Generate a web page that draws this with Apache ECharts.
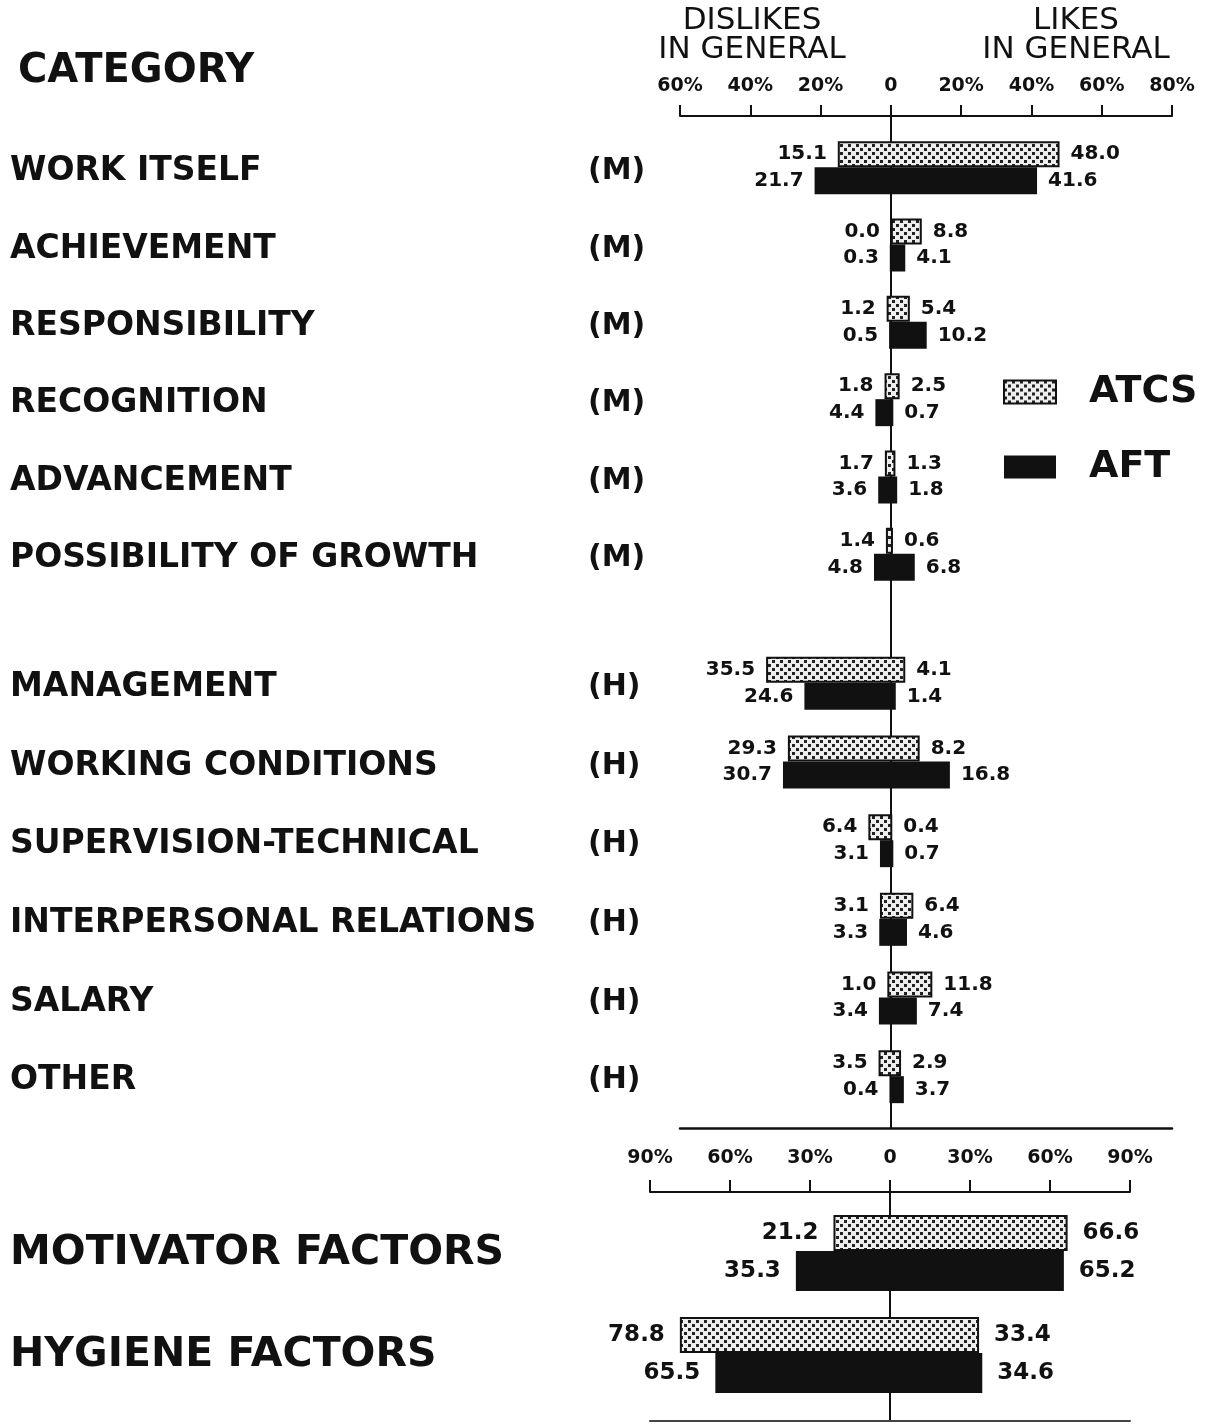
<!DOCTYPE html>
<html>
<head>
<meta charset="utf-8">
<title>Likes / dislikes in general - ATCS vs AFT</title>
<script src="https://cdn.jsdelivr.net/npm/echarts@6/dist/echarts.min.js"></script>
<style>
  html, body { margin: 0; padding: 0; background: #fff; }
  #chart { width: 1208px; height: 1424px; }
</style>
</head>
<body>
<div id="chart"></div>
<script>
// categories with their group, (M) motivator / (H) hygiene
var categories = ['WORK ITSELF', 'ACHIEVEMENT', 'RESPONSIBILITY', 'RECOGNITION', 'ADVANCEMENT', 'POSSIBILITY OF GROWTH',
  'MANAGEMENT', 'WORKING CONDITIONS', 'SUPERVISION-TECHNICAL', 'INTERPERSONAL RELATIONS', 'SALARY', 'OTHER'];
var groups = ['(M)', '(M)', '(M)', '(M)', '(M)', '(M)', '(H)', '(H)', '(H)', '(H)', '(H)', '(H)'];

// percent values, dislikes are drawn to the left of zero
var atcsDislikes = [15.1, 0.0, 1.2, 1.8, 1.7, 1.4, 35.5, 29.3, 6.4, 3.1, 1.0, 3.5];
var atcsLikes    = [48.0, 8.8, 5.4, 2.5, 1.3, 0.6, 4.1, 8.2, 0.4, 6.4, 11.8, 2.9];
var aftDislikes  = [21.7, 0.3, 0.5, 4.4, 3.6, 4.8, 24.6, 30.7, 3.1, 3.3, 3.4, 0.4];
var aftLikes     = [41.6, 4.1, 10.2, 0.7, 1.8, 6.8, 1.4, 16.8, 0.7, 4.6, 7.4, 3.7];

var factors = ['MOTIVATOR FACTORS', 'HYGIENE FACTORS'];
var factorAtcsDislikes = [21.2, 78.8];
var factorAtcsLikes    = [66.6, 33.4];
var factorAftDislikes  = [35.3, 65.5];
var factorAftLikes     = [65.2, 34.6];

// axis ranges (tick labels are the absolute values)
var topAxis = { min: -60, max: 80, step: 20 };
var bottomAxis = { min: -90, max: 90, step: 30 };

var FONT = 'DejaVu Sans';
var INK = '#111';

// stippled fill for ATCS
var pc = document.createElement('canvas');
pc.width = 8; pc.height = 8;
var g = pc.getContext('2d');
g.fillStyle = '#eeeeee'; g.fillRect(0, 0, 8, 8);
g.fillStyle = '#222'; g.fillRect(0, 0, 3, 3); g.fillRect(4, 4, 3, 3);
var stipple = { image: pc, repeat: 'repeat' };

function pctLabel(v) { return v === 0 ? '0' : Math.abs(v) + '%'; }
function fix1(v) { return Math.abs(v).toFixed(1); }

// one diverging bar = transparent base (dislikes, to the left) + visible bar from -dislike to +like
function diverging(name, fill, border, key, xi, yi, dis, likes, width, fs, dist) {
  var lbl = { color: INK, fontFamily: FONT, fontWeight: 'bold', fontSize: fs, distance: dist };
  return [{
    name: name + ' dislikes', type: 'bar', xAxisIndex: xi, yAxisIndex: yi,
    stack: key, stackStrategy: 'all', barWidth: width, barGap: '0%', silent: true,
    itemStyle: { color: 'rgba(0,0,0,0)' },
    label: Object.assign({ show: true, position: 'left', formatter: function (p) { return fix1(p.value); } }, lbl),
    emphasis: { disabled: true },
    data: dis.map(function (d) { return -d; })
  }, {
    name: name, type: 'bar', xAxisIndex: xi, yAxisIndex: yi,
    stack: key, stackStrategy: 'all', barWidth: width, barGap: '0%', silent: true,
    itemStyle: { color: fill, borderColor: border, borderWidth: border ? 2 : 0 },
    label: Object.assign({ show: true, position: 'right', formatter: function (p) { return fix1(likes[p.dataIndex]); } }, lbl),
    emphasis: { disabled: true },
    data: dis.map(function (d, i) { return d + likes[i]; })
  }];
}

function rowLabels(list, grp) {
  return list.map(function (c, i) { return '{a|' + c + '}{b|' + grp[i] + '}'; });
}

var mCats = rowLabels(categories.slice(0, 6), groups.slice(0, 6));
var hCats = rowLabels(categories.slice(6), groups.slice(6));

var catLabel = {
  interval: 0, margin: 670, align: 'left', color: INK, padding: [8, 0, 0, 0],
  rich: {
    a: { width: 578, fontFamily: FONT, fontWeight: 'bold', fontSize: 33, color: INK },
    b: { fontFamily: FONT, fontWeight: 'bold', fontSize: 30, color: INK }
  }
};

var hidden = { show: false };
var zeroLine = { show: true, onZero: true, lineStyle: { color: INK, width: 2 } };

function valueX(grid, ax, extra) {
  return Object.assign({
    type: 'value', gridIndex: grid, min: ax.min, max: ax.max, interval: ax.step,
    axisLine: { show: false, onZero: false }, axisTick: hidden, axisLabel: hidden, splitLine: hidden
  }, extra || {});
}

var chart = echarts.init(document.getElementById('chart'));

var option = {
  backgroundColor: '#fff',
  animation: false,
  grid: [
    { left: 680, right: 36, top: 116, height: 1012, outerBoundsMode: 'none' },   // top scale + zero line
    { left: 680, right: 36, top: 129, height: 464, outerBoundsMode: 'none' },    // (M) rows
    { left: 680, right: 36, top: 644, height: 472, outerBoundsMode: 'none' },    // (H) rows
    { left: 650, right: 78, top: 1192, height: 229, outerBoundsMode: 'none' },   // bottom scale + zero line
    { left: 650, right: 78, top: 1202, height: 204, outerBoundsMode: 'none' }    // factor rows
  ],
  xAxis: [
    valueX(0, topAxis, {
      position: 'top',
      axisLine: { show: true, onZero: false, lineStyle: { color: INK, width: 2 } },
      axisTick: { show: true, length: 11, lineStyle: { color: INK, width: 2 } },
      axisLabel: { show: true, margin: 20, formatter: pctLabel, color: INK, fontFamily: FONT, fontWeight: 'bold', fontSize: 19 }
    }),
    valueX(1, topAxis),
    valueX(2, topAxis, {
      position: 'bottom', offset: 12,
      axisLine: { show: true, onZero: false, lineStyle: { color: INK, width: 2.5 } }
    }),
    valueX(3, bottomAxis, {
      position: 'top',
      axisLine: { show: true, onZero: false, lineStyle: { color: INK, width: 2 } },
      axisTick: { show: true, length: 12, lineStyle: { color: INK, width: 2 } },
      axisLabel: { show: true, margin: 24, formatter: pctLabel, color: INK, fontFamily: FONT, fontWeight: 'bold', fontSize: 19 }
    }),
    valueX(3, bottomAxis, {
      position: 'bottom',
      axisLine: { show: true, onZero: false, lineStyle: { color: '#444', width: 2 } }
    }),
    valueX(4, bottomAxis)
  ],
  yAxis: [
    { type: 'value', gridIndex: 0, min: 0, max: 1, axisLine: zeroLine, axisTick: hidden, axisLabel: hidden, splitLine: hidden },
    { type: 'category', gridIndex: 1, inverse: true, data: mCats, axisLine: { show: false, onZero: false }, axisTick: hidden, axisLabel: catLabel },
    { type: 'category', gridIndex: 2, inverse: true, data: hCats, axisLine: { show: false, onZero: false }, axisTick: hidden, axisLabel: catLabel },
    { type: 'value', gridIndex: 3, min: 0, max: 1, axisLine: zeroLine, axisTick: hidden, axisLabel: hidden, splitLine: hidden },
    {
      type: 'category', gridIndex: 4, inverse: true, data: factors,
      axisLine: { show: false, onZero: false }, axisTick: hidden,
      axisLabel: { interval: 0, margin: 640, align: 'left', color: INK, fontFamily: FONT, fontWeight: 'bold', fontSize: 41, padding: [6, 0, 0, 0] }
    }
  ],
  legend: {
    data: ['ATCS', 'AFT'], orient: 'vertical', left: 1003, top: 372, padding: 0,
    icon: 'rect', itemWidth: 52, itemHeight: 23, itemGap: 35, selectedMode: false,
    textStyle: { color: INK, fontFamily: FONT, fontWeight: 'bold', fontSize: 38, lineHeight: 40, padding: [0, 0, 0, 28] }
  },
  graphic: [
    { type: 'text', x: 18, y: 72, style: { text: 'CATEGORY', fill: INK, font: 'bold 40px ' + FONT, align: 'left', verticalAlign: 'middle' } },
    { type: 'text', x: 752, y: 21, style: { text: 'DISLIKES', fill: INK, font: '31px ' + FONT, align: 'center', verticalAlign: 'middle' } },
    { type: 'text', x: 752, y: 50, style: { text: 'IN GENERAL', fill: INK, font: '31px ' + FONT, align: 'center', verticalAlign: 'middle' } },
    { type: 'text', x: 1076, y: 21, style: { text: 'LIKES', fill: INK, font: '31px ' + FONT, align: 'center', verticalAlign: 'middle' } },
    { type: 'text', x: 1076, y: 50, style: { text: 'IN GENERAL', fill: INK, font: '31px ' + FONT, align: 'center', verticalAlign: 'middle' } }
  ],
  series: [].concat(
    diverging('ATCS', stipple, INK, 'atcsM', 1, 1, atcsDislikes.slice(0, 6), atcsLikes.slice(0, 6), 26, 20, 11),
    diverging('AFT', INK, null, 'aftM', 1, 1, aftDislikes.slice(0, 6), aftLikes.slice(0, 6), 27, 20, 11),
    diverging('ATCS', stipple, INK, 'atcsH', 2, 2, atcsDislikes.slice(6), atcsLikes.slice(6), 26, 20, 11),
    diverging('AFT', INK, null, 'aftH', 2, 2, aftDislikes.slice(6), aftLikes.slice(6), 27, 20, 11),
    diverging('ATCS', stipple, INK, 'atcsF', 5, 4, factorAtcsDislikes, factorAtcsLikes, 36, 23, 15),
    diverging('AFT', INK, null, 'aftF', 5, 4, factorAftDislikes, factorAftLikes, 40, 23, 15)
  )
};

chart.setOption(option);
</script>
</body>
</html>
